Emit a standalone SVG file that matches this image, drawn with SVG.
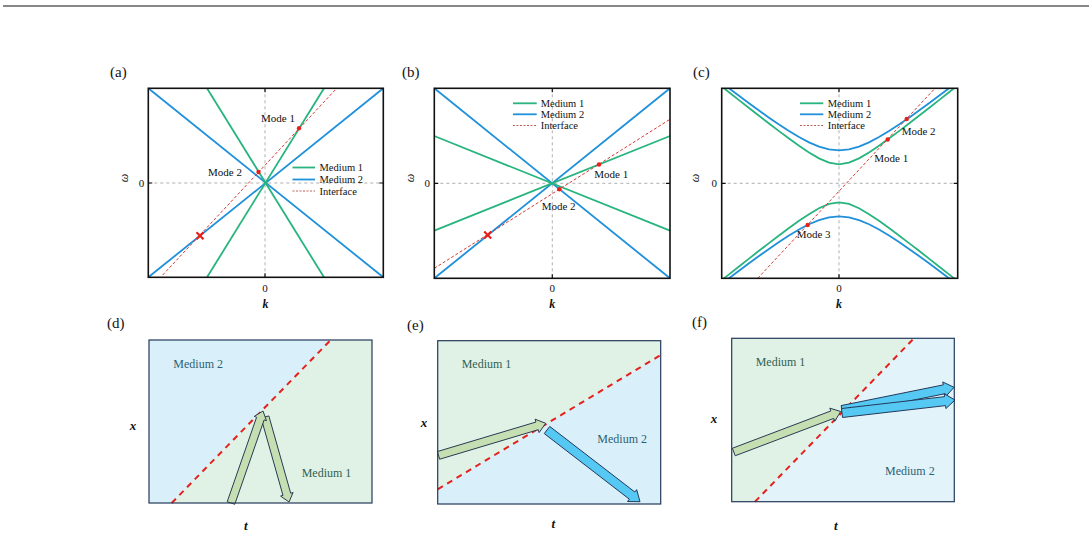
<svg xmlns="http://www.w3.org/2000/svg" width="1092" height="537" viewBox="0 0 1092 537" font-family="'Liberation Serif', 'DejaVu Serif', serif">
<defs>
<style>
text{font-family:'Liberation Serif','DejaVu Serif',serif;fill:#111}
.lbl{font-size:15px}
.tk{font-size:11px;text-anchor:middle}
.ax{font-size:12px;font-weight:bold;font-style:italic;text-anchor:middle}
.om{font-size:12px;font-style:italic;text-anchor:middle}
.md{font-size:11px}
.lg{font-size:10.5px}
.frame{fill:none;stroke:#111;stroke-width:1.6}
.grid{fill:none;stroke:#9a9a9a;stroke-width:0.8;stroke-dasharray:3 3}
.g{fill:none;stroke:#27b47e;stroke-width:1.8}
.b{fill:none;stroke:#1f90da;stroke-width:1.8}
.ifc{fill:none;stroke:#d43a32;stroke-width:1;stroke-dasharray:3 2}
.lif{fill:none;stroke:#c0605a;stroke-width:1.2;stroke-dasharray:2 1.5}
.dot{fill:#e8201c}
.xm{stroke:#e8201c;stroke-width:2.2}
.tick{stroke:#111;stroke-width:1.2}
.box{fill:none;stroke:#24395a;stroke-width:1.2}
.bf{fill:#d9eff9}
.gf{fill:#e0f2e6}
.red{fill:none;stroke:#e6201c;stroke-width:2;stroke-dasharray:6 5}
.ga{fill:#c5dfb3;stroke:#2a3a52;stroke-width:1}
.ba{fill:#55c9f3;stroke:#24395a;stroke-width:1}
.m1{font-size:12px;fill:#2f6152}
.m2{font-size:12px;fill:#2f5f72}
.tx{font-size:13px;font-weight:bold;font-style:italic;text-anchor:middle}
</style>
<clipPath id="clipC"><rect x="721.7" y="88.3" width="236" height="190"/></clipPath>
</defs>

<line x1="3" y1="6" x2="1089" y2="6" stroke="#111" stroke-width="1"/>

<!-- Panel (a) -->
<g id="panel-a">
<text class="lbl" x="110" y="77">(a)</text>
<line class="grid" x1="265" y1="88.3" x2="265" y2="277.3"/>
<line class="grid" x1="148.3" y1="183" x2="383.3" y2="183"/>
<line class="b" x1="148.3" y1="88.3" x2="383.3" y2="277.3"/>
<line class="b" x1="148.3" y1="277.3" x2="383.3" y2="88.3"/>
<line class="g" x1="207" y1="88.3" x2="324" y2="277.3"/>
<line class="g" x1="324" y1="88.3" x2="207" y2="277.3"/>
<line class="ifc" x1="162.7" y1="275" x2="336.7" y2="88.3"/>
<circle class="dot" cx="258.5" cy="172" r="2.2"/>
<circle class="dot" cx="299" cy="128.3" r="2.2"/>
<path class="xm" d="M196.5,232.2 L203.5,239.2 M196.5,239.2 L203.5,232.2"/>
<text class="md" x="261" y="122">Mode 1</text>
<text class="md" x="208" y="176">Mode 2</text>
<line class="g" x1="292.5" y1="167.5" x2="315" y2="167.5"/>
<line class="b" x1="292.5" y1="179.5" x2="315" y2="179.5"/>
<line class="lif" x1="292.5" y1="191" x2="315" y2="191"/>
<text class="lg" x="319.5" y="171">Medium 1</text>
<text class="lg" x="319.5" y="183">Medium 2</text>
<text class="lg" x="319.5" y="194.5">Interface</text>
<rect class="frame" x="148.3" y="88.3" width="235" height="189"/>
<path class="tick" d="M265,88.3v4 M265,277.3v-4 M148.3,183h4 M383.3,183h-4"/>
<text class="tk" x="265" y="292">0</text>
<text class="ax" x="265.5" y="307.5">k</text>
<text class="tk" x="141.5" y="186.5">0</text>
<text class="om" transform="translate(127.5,178) rotate(-90)">ω</text>
</g>

<!-- Panel (b) -->
<g id="panel-b">
<text class="lbl" x="402" y="77">(b)</text>
<line class="grid" x1="552.3" y1="88.3" x2="552.3" y2="278.3"/>
<line class="grid" x1="434.3" y1="183.3" x2="670" y2="183.3"/>
<line class="b" x1="434.3" y1="88.3" x2="670" y2="278.3"/>
<line class="b" x1="434.3" y1="278.3" x2="670" y2="88.3"/>
<line class="g" x1="434.3" y1="136" x2="670" y2="230.7"/>
<line class="g" x1="434.3" y1="230.7" x2="670" y2="136"/>
<line class="ifc" x1="434.3" y1="268.3" x2="670" y2="119.3"/>
<circle class="dot" cx="559.3" cy="189.3" r="2.2"/>
<circle class="dot" cx="599" cy="164.5" r="2.2"/>
<path class="xm" d="M484.2,231.5 L491.2,238.5 M484.2,238.5 L491.2,231.5"/>
<text class="md" x="594.3" y="177.5">Mode 1</text>
<text class="md" x="541.7" y="210">Mode 2</text>
<line class="g" x1="513" y1="103.3" x2="536.7" y2="103.3"/>
<line class="b" x1="513" y1="114.3" x2="536.7" y2="114.3"/>
<line class="lif" x1="513" y1="125.5" x2="536.7" y2="125.5"/>
<text class="lg" x="540.7" y="106.8">Medium 1</text>
<text class="lg" x="540.7" y="117.8">Medium 2</text>
<text class="lg" x="540.7" y="129">Interface</text>
<rect class="frame" x="434.3" y="88.3" width="235.7" height="190"/>
<path class="tick" d="M552.3,88.3v4 M552.3,278.3v-4 M434.3,183.3h4 M670,183.3h-4"/>
<text class="tk" x="552.3" y="292">0</text>
<text class="ax" x="552.3" y="307.5">k</text>
<text class="tk" x="427.3" y="187">0</text>
<text class="om" transform="translate(413.5,178) rotate(-90)">ω</text>
</g>

<!-- Panel (c) -->
<g id="panel-c">
<text class="lbl" x="693" y="77">(c)</text>
<line class="grid" x1="839" y1="88.3" x2="839" y2="278.3"/>
<line class="grid" x1="721.7" y1="183.3" x2="957.7" y2="183.3"/>
<g clip-path="url(#clipC)">
<polyline class="g" points="719,84.26 729,92.2 739,100.1 749,107.97 759,115.77 769,123.5 779,131.12 789,138.57 799,145.74 809,152.45 819,158.33 829,162.65 839,164.3 849,162.65 859,158.33 869,152.45 879,145.74 889,138.57 899,131.12 909,123.5 919,115.77 929,107.97 939,100.1 949,92.2 959,84.26"/>
<polyline class="g" points="719,282.34 729,274.4 739,266.5 749,258.63 759,250.83 769,243.1 779,235.48 789,228.03 799,220.86 809,214.15 819,208.27 829,203.95 839,202.3 849,203.95 859,208.27 869,214.15 879,220.86 889,228.03 899,235.48 909,243.1 919,250.83 929,258.63 939,266.5 949,274.4 959,282.34"/>
<polyline class="b" points="719,80.65 729,88.28 739,95.84 749,103.28 759,110.58 769,117.7 779,124.55 789,131.06 799,137.05 809,142.32 819,146.54 829,149.32 839,150.3 849,149.32 859,146.54 869,142.32 879,137.05 889,131.06 899,124.55 909,117.7 919,110.58 929,103.28 939,95.84 949,88.28 959,80.65"/>
<polyline class="b" points="719,285.95 729,278.32 739,270.76 749,263.32 759,256.02 769,248.9 779,242.05 789,235.54 799,229.55 809,224.28 819,220.06 829,217.28 839,216.3 849,217.28 859,220.06 869,224.28 879,229.55 889,235.54 899,242.05 909,248.9 919,256.02 929,263.32 939,270.76 949,278.32 959,285.95"/>
<line class="ifc" x1="757.7" y1="278.3" x2="935" y2="88.3"/>
</g>
<circle class="dot" cx="906.7" cy="119" r="2.2"/>
<circle class="dot" cx="887.7" cy="139.5" r="2.2"/>
<circle class="dot" cx="807.7" cy="225" r="2.2"/>
<text class="md" x="901.7" y="135">Mode 2</text>
<text class="md" x="874.3" y="161.7">Mode 1</text>
<text class="md" x="796.7" y="238.3">Mode 3</text>
<line class="g" x1="800" y1="103.3" x2="823.3" y2="103.3"/>
<line class="b" x1="800" y1="114.3" x2="823.3" y2="114.3"/>
<line class="lif" x1="800" y1="125.5" x2="823.3" y2="125.5"/>
<text class="lg" x="827.7" y="106.8">Medium 1</text>
<text class="lg" x="827.7" y="117.8">Medium 2</text>
<text class="lg" x="827.7" y="129">Interface</text>
<rect class="frame" x="721.7" y="88.3" width="236" height="190"/>
<path class="tick" d="M839,88.3v4 M839,278.3v-4 M721.7,183.3h4 M957.7,183.3h-4"/>
<text class="tk" x="839" y="292">0</text>
<text class="ax" x="839" y="307.5">k</text>
<text class="tk" x="714.3" y="187">0</text>
<text class="om" transform="translate(698.5,178) rotate(-90)">ω</text>
</g>

<!-- Panel (d) -->
<g id="panel-d">
<text class="lbl" x="107" y="328">(d)</text>
<polygon class="bf" points="149,340 330.7,340 171.7,503 149,503"/>
<polygon class="gf" points="330.7,340 372,340 372,503 171.7,503"/>
<line class="red" x1="171.7" y1="503" x2="330.7" y2="340"/>
<polygon class="ga" points="261.15,418.09 282.98,495.39 280.57,496.07 289,502 293.09,492.53 290.68,493.21 268.85,415.91"/>
<polygon class="ga" points="234.78,504.31 264.15,419.87 266.51,420.7 263,411 254.23,416.42 256.59,417.25 227.22,501.69"/>
<rect class="box" x="149" y="340" width="223" height="163"/>
<text class="m2" x="173.3" y="368">Medium 2</text>
<text class="m1" x="301.7" y="476.5">Medium 1</text>
<text class="tx" x="133" y="430">x</text>
<text class="tx" x="245.7" y="530">t</text>
</g>

<!-- Panel (e) -->
<g id="panel-e">
<text class="lbl" x="407" y="330">(e)</text>
<polygon class="gf" points="437.7,340.7 660.7,340.7 660.7,355 437.7,489.3"/>
<polygon class="bf" points="660.7,355 660.7,504 437.7,504 437.7,489.3"/>
<line class="red" x1="437.7" y1="489.3" x2="660.7" y2="355"/>
<polygon class="ba" points="544.25,433.56 629.33,499.15 627.5,501.53 640,501.7 636.66,489.65 634.83,492.03 549.75,426.44"/>
<polygon class="ga" points="439.65,459.23 538.23,429.71 539.09,432.59 545.7,423.3 535.07,419.17 535.93,422.05 437.35,451.57"/>
<rect class="box" x="437.7" y="340.7" width="223" height="163.3"/>
<text class="m1" x="461.7" y="368.3">Medium 1</text>
<text class="m2" x="597.3" y="443.3">Medium 2</text>
<text class="tx" x="424" y="427">x</text>
<text class="tx" x="553.3" y="528">t</text>
</g>

<!-- Panel (f) -->
<g id="panel-f">
<text class="lbl" x="692" y="327">(f)</text>
<polygon class="gf" points="731.7,338.3 914,338.3 755,501.7 731.7,501.7"/>
<polygon class="bf" points="914,338.3 954.3,338.3 954.3,501.7 755,501.7" style="fill:#e2f3fa"/>
<line class="red" x1="755" y1="501.7" x2="914" y2="338.3"/>
<polygon class="ga" points="735.22,455.74 833.7,418.43 834.76,421.24 840.7,411.5 829.8,408.14 830.86,410.95 732.38,448.26"/>
<polygon class="ba" points="842.9,414.41 945.1,393.7 945.69,396.64 954,387.3 942.71,381.94 943.3,384.88 841.1,405.59"/>
<polygon class="ba" points="842.51,417.47 945.57,405.61 945.92,408.59 955,400 944.2,393.69 944.55,396.67 841.49,408.53"/>
<rect class="box" x="731.7" y="338.3" width="222.6" height="163.4"/>
<text class="m1" x="755.7" y="366">Medium 1</text>
<text class="m2" x="885" y="475">Medium 2</text>
<text class="tx" x="714" y="423">x</text>
<text class="tx" x="835.7" y="530">t</text>
</g>
</svg>
